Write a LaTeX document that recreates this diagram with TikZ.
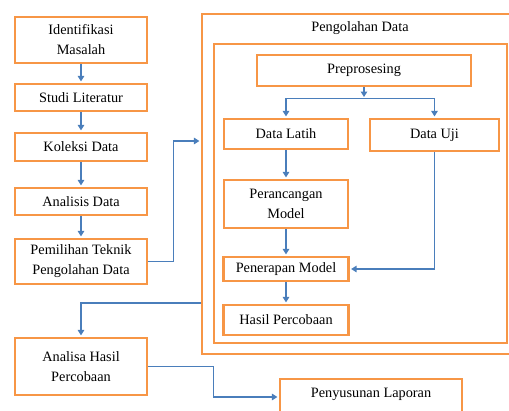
\documentclass[tikz,border=0pt]{standalone}
\usepackage{fontspec}
\setmainfont{Liberation Serif}
\usetikzlibrary{arrows.meta}
\definecolor{boxorange}{HTML}{F79646}
\definecolor{arrowblue}{HTML}{4A7EBB}
\begin{document}
\begin{tikzpicture}[x=1pt, y=-1pt, font=\fontsize{14.3}{20}\selectfont,
            main/.style = {draw=boxorange, line width=2.6pt, align=center, inner sep=2pt},
            arr/.style = {draw=arrowblue, line width=1.4pt, shorten >=1.3pt, -{Triangle[width=6.5pt,length=5.5pt]}}]
            \useasboundingbox (0,0) rectangle (509,410);
            \clip (0,0) rectangle (509,410);

            \node[main, minimum width=132, minimum height=46] (idm)      at (81,40)    {Identifikasi\\Masalah};
            \node[main, minimum width=132, minimum height=27] (studi)    at (81,97.5)  {Studi Literatur};
            \node[main, minimum width=132, minimum height=28] (koleksi)  at (81,147)   {Koleksi Data};
            \node[main, minimum width=132, minimum height=27] (analisis) at (81,201.5) {Analisis Data};
            \node[main, minimum width=132, minimum height=45] (pilih)    at (81,261.5) {Pemilihan Teknik\\Pengolahan Data};
            \node[main, minimum width=132, minimum height=57] (analisa)  at (81,366.5) {Analisa Hasil\\Percobaan};

            \node[main, minimum width=317, minimum height=340] (olah)  at (360.5,184)   {};
            \node (judul) at (360,28) {Pengolahan Data};
            \node[main, minimum width=293, minimum height=299] (dalam) at (360.5,193.5) {};

            \node[main, minimum width=214, minimum height=31] (pre)   at (364,70.5)  {Preprosesing};
            \node[main, minimum width=124, minimum height=30] (latih) at (286,134)   {Data Latih};
            \node[main, minimum width=129, minimum height=32] (uji)   at (434.5,135) {Data Uji};
            \node[main, minimum width=124, minimum height=48] (ranc)  at (286,204)   {Perancangan\\Model};
            \node[main, minimum width=125, minimum height=24] (terap) at (286,269)   {Penerapan Model};
            \node[main, minimum width=125, minimum height=30] (hasil) at (286,320)   {Hasil Percobaan};
            \node[main, minimum width=182, minimum height=36, text depth=8pt] (lapor) at (371,397) {Penyusunan Laporan};

            \coordinate (cabang) at ([yshift=-11pt]pre.south);

            \draw[arr] (idm) -- (studi);
            \draw[arr] (studi) -- (koleksi);
            \draw[arr] (koleksi) -- (analisis);
            \draw[arr] (analisis) -- (pilih);
            \draw[arr] (pilih.east) -- ++(25,0) |- ([yshift=43pt]olah.west);
            \draw[arr] (pre.south) -- (cabang);
            \draw[arr] (cabang) -| (latih.north);
            \draw[arr] (cabang) -| (uji.north);
            \draw[arr] (latih) -- (ranc);
            \draw[arr] (ranc) -- (terap);
            \draw[arr] (uji.south) |- (terap.east);
            \draw[arr] (terap) -- (hasil);
            \draw[arr] ([yshift=-119pt]olah.west) -| (analisa.north);
            \draw[arr] (analisa.east) -- ++(65,0) |- (lapor.west);
        \end{tikzpicture}
\end{document}
